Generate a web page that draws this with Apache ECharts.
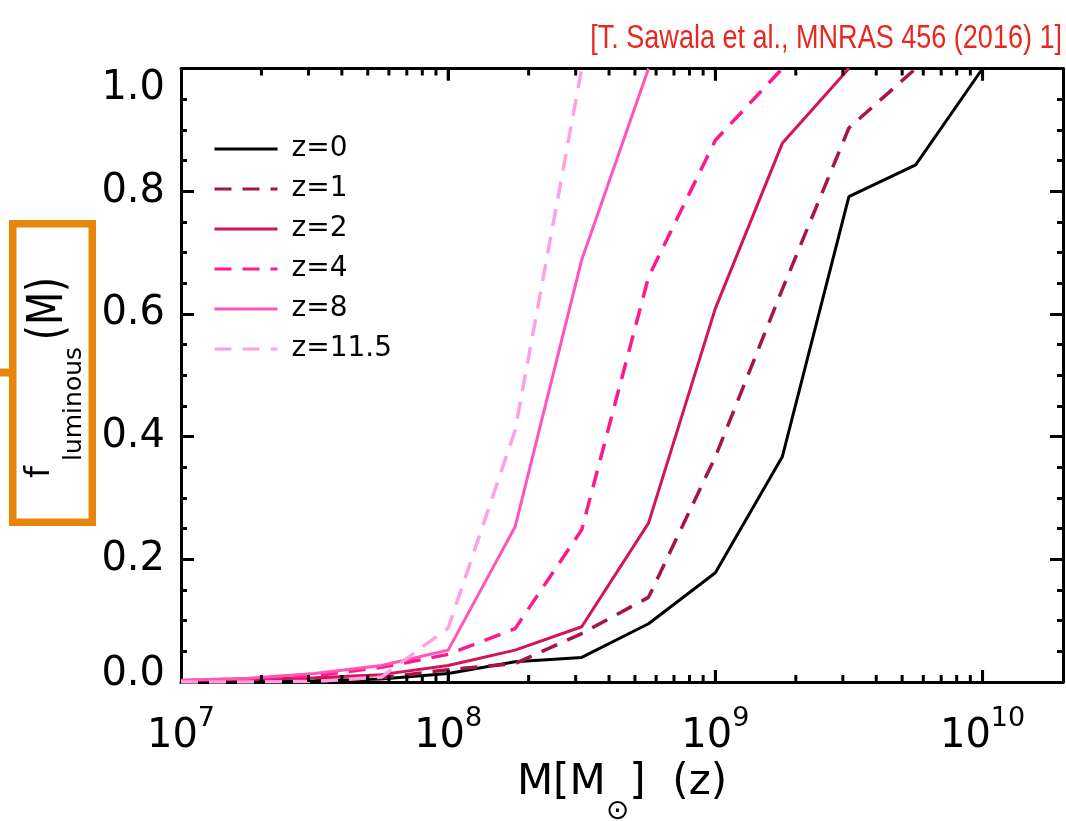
<!DOCTYPE html>
<html><head><meta charset="utf-8">
<script src="https://cdn.jsdelivr.net/npm/echarts@6/dist/echarts.min.js"></script>
<style>html,body{margin:0;padding:0;background:#fff}#c{width:1066px;height:821px}</style>
</head><body><div id="c"></div>
<script>
// halo mass grid (Msun), quarter-decade spacing
const masses = [1.0e7, 1.78e7, 3.16e7, 5.62e7, 1.0e8, 1.78e8, 3.16e8, 5.62e8, 1.0e9, 1.78e9, 3.16e9, 5.62e9, 1.0e10];
// luminous fraction per redshift
const fz0   = [0.000, 0.001, 0.002, 0.005, 0.014, 0.033, 0.040, 0.095, 0.178, 0.367, 0.791, 0.843, 1.000];
const fz1   = [0.000, 0.001, 0.003, 0.007, 0.020, 0.030, 0.079, 0.138, 0.367, 0.640, 0.903, 1.000];
const fz2   = [0.002, 0.004, 0.007, 0.012, 0.027, 0.052, 0.090, 0.259, 0.609, 0.878, 1.000];
const fz4   = [0.002, 0.005, 0.010, 0.024, 0.045, 0.087, 0.248, 0.660, 0.883, 1.000];
const fz8   = [0.003, 0.006, 0.014, 0.027, 0.052, 0.253, 0.688, 1.000];
const fz115 = [0.000, 0.000, 0.001, 0.008, 0.088, 0.410, 1.000];
const seriesNames = ['z=0', 'z=1', 'z=2', 'z=4', 'z=8', 'z=11.5'];
const yTicks = [0.0, 0.2, 0.4, 0.6, 0.8, 1.0];
const xDecades = [1e7, 1e8, 1e9, 1e10];
const minorMult = [2, 3, 4, 5, 6, 7, 8, 9];
const xMin = 1e7, xMax = 2e10;

const seriesValues = [fz0, fz1, fz2, fz4, fz8, fz115];
const colors = ['#000000', '#a81446', '#d4145a', '#ff1a8c', '#ff55b8', '#ffa0e2'];
const dashed = [false, true, false, true, false, true];
const FONT = 'DejaVu Sans';

function pairs(vals) { return vals.map((v, i) => [masses[i], v]); }

// x tick positions of the log axis: [value, isMajor]
const xTickData = [];
xDecades.forEach(d => {
  if (d > xMin && d < xMax) xTickData.push([d, 1]);
  minorMult.forEach(m => { if (d * m < xMax) xTickData.push([d * m, 0]); });
});

const series = seriesValues.map((vals, i) => ({
  name: seriesNames[i], type: 'line', data: pairs(vals), symbol: 'none', showSymbol: false,
  xAxisIndex: 0, yAxisIndex: 0, z: 3 + i,
  lineStyle: { color: colors[i], width: dashed[i] ? 3.5 : 3, type: dashed[i] ? [17, 11] : 'solid', cap: 'butt' },
  itemStyle: { color: colors[i] }
}));
// x ticks (major + 2..9 minors) on bottom and top of the frame
series.push({
  type: 'custom', name: 'xTicks', data: xTickData, silent: true, clip: false, z: 50,
  xAxisIndex: 0, yAxisIndex: 0,
  renderItem: function (params, api) {
    const v = api.value(0);
    const len = api.value(1) ? 12 : 7;
    const b = api.coord([v, 0]);
    const t = api.coord([v, 1]);
    return { type: 'group', children: [
      { type: 'line', shape: { x1: b[0], y1: b[1], x2: b[0], y2: b[1] - len }, style: { stroke: '#000', lineWidth: 3 } },
      { type: 'line', shape: { x1: t[0], y1: t[1], x2: t[0], y2: t[1] + len }, style: { stroke: '#000', lineWidth: 3 } }
    ] };
  }
});

const lineSt = { color: '#000', width: 3 };
const chart = echarts.init(document.getElementById('c'), null, { renderer: 'canvas' });
chart.setOption({
  animation: false,
  backgroundColor: '#fff',
  grid: { left: 181, right: 3, top: 68.5, bottom: 139, containLabel: false, outerBoundsMode: 'none' },
  legend: {
    data: seriesNames, orient: 'vertical', left: 208, top: 129, selectedMode: false,
    itemWidth: 63, itemHeight: 14, itemGap: 10,
    itemStyle: { opacity: 0 },
    lineStyle: { width: 3 },
    textStyle: { fontFamily: FONT, fontSize: 28, color: '#000', lineHeight: 30, padding: [0, 0, 0, 9] }
  },
  xAxis: [{
    type: 'log', logBase: 10, min: xMin, max: xMax, position: 'bottom',
    axisLine: { show: true, lineStyle: lineSt },
    axisTick: { show: true, inside: true, length: 12, lineStyle: { color: '#000', width: 3 } },
    splitLine: { show: false },
    axisLabel: {
      show: true, margin: 23, showMaxLabel: false, color: '#000', fontFamily: FONT,
      formatter: function (v) {
        const e = Math.round(Math.log10(v));
        if (Math.abs(Math.log10(v) - e) > 1e-6) return '';
        return '{b|10}{s|' + e + '}';
      },
      rich: {
        b: { fontSize: 40, fontFamily: FONT, color: '#000', verticalAlign: 'bottom', lineHeight: 52 },
        s: { fontSize: 27, fontFamily: FONT, color: '#000', verticalAlign: 'top', lineHeight: 24 }
      }
    },
    name: '{a|M[M}{s|\u2299}{a|]  (z)}', nameLocation: 'middle', nameGap: 79,
    nameTextStyle: {
      rich: {
        a: { fontSize: 42, fontFamily: FONT, color: '#000', verticalAlign: 'top' },
        s: { fontSize: 28, fontFamily: FONT, color: '#000', verticalAlign: 'top', padding: [36, 0, 0, 0] }
      }
    }
  }, {
    type: 'log', logBase: 10, min: xMin, max: xMax, position: 'top',
    axisLine: { show: true, onZero: false, lineStyle: lineSt },
    axisTick: { show: true, inside: true, length: 12, lineStyle: { color: '#000', width: 3 } },
    splitLine: { show: false }, axisLabel: { show: false }
  }],
  yAxis: [{
    type: 'value', min: 0, max: 1, interval: 0.2, position: 'left',
    axisLine: { show: true, lineStyle: lineSt },
    axisTick: { show: true, inside: true, length: 13, lineStyle: { color: '#000', width: 3 } },
    minorTick: { show: true, splitNumber: 4, length: 6, lineStyle: { color: '#000', width: 3 } },
    splitLine: { show: false }, minorSplitLine: { show: false },
    axisLabel: {
      margin: 16, color: '#000', fontFamily: FONT, fontSize: 40,
      verticalAlignMaxLabel: 'top', verticalAlignMinLabel: 'bottom',
      formatter: function (v) {
        const s = v.toFixed(1);
        if (v >= 1) return '{mx|' + s + '}';
        if (v <= 0) return '{mn|' + s + '}';
        return '{n|' + s + '}';
      },
      rich: {
        mx: { fontSize: 40, fontFamily: FONT, color: '#000', lineHeight: 40 },
        mn: { fontSize: 40, fontFamily: FONT, color: '#000', lineHeight: 14 },
        n: { fontSize: 40, fontFamily: FONT, color: '#000' }
      }
    }
  }, {
    type: 'value', min: 0, max: 1, interval: 0.2, position: 'right',
    axisLine: { show: true, onZero: false, lineStyle: lineSt },
    axisTick: { show: true, inside: true, length: 13, lineStyle: { color: '#000', width: 3 } },
    minorTick: { show: true, splitNumber: 4, length: 6, lineStyle: { color: '#000', width: 3 } },
    splitLine: { show: false }, axisLabel: { show: false }
  }],
  graphic: [
    { type: 'text', x: 1062, y: 39, scaleX: 0.795, z: 20,
      style: { text: '[T. Sawala et al., MNRAS 456 (2016) 1]', font: '34px "Liberation Sans"', fill: '#e8281e', align: 'right', verticalAlign: 'middle' } },
    { type: 'rect', z: 20, shape: { x: 12.75, y: 223.8, width: 79.5, height: 298.4 },
      style: { fill: 'none', stroke: '#e8850c', lineWidth: 7.5 } },
    { type: 'line', z: 20, shape: { x1: 0, y1: 372.5, x2: 12, y2: 372.5 },
      style: { stroke: '#e8850c', lineWidth: 8 } },
    { type: 'text', z: 21, x: 40, y: 472, rotation: Math.PI / 2,
      style: { text: 'f', font: '34px "DejaVu Sans"', fill: '#000', align: 'center', verticalAlign: 'middle' } },
    { type: 'text', z: 21, x: 74.5, y: 404, rotation: Math.PI / 2,
      style: { text: 'luminous', font: '25px "DejaVu Sans"', fill: '#000', align: 'center', verticalAlign: 'middle' } },
    { type: 'text', z: 21, x: 49, y: 308.5, rotation: Math.PI / 2, scaleX: 0.77,
      style: { text: '(M)', font: '50px "DejaVu Sans"', fill: '#000', align: 'center', verticalAlign: 'middle' } }
  ],
  series: series
});
</script></body></html>
